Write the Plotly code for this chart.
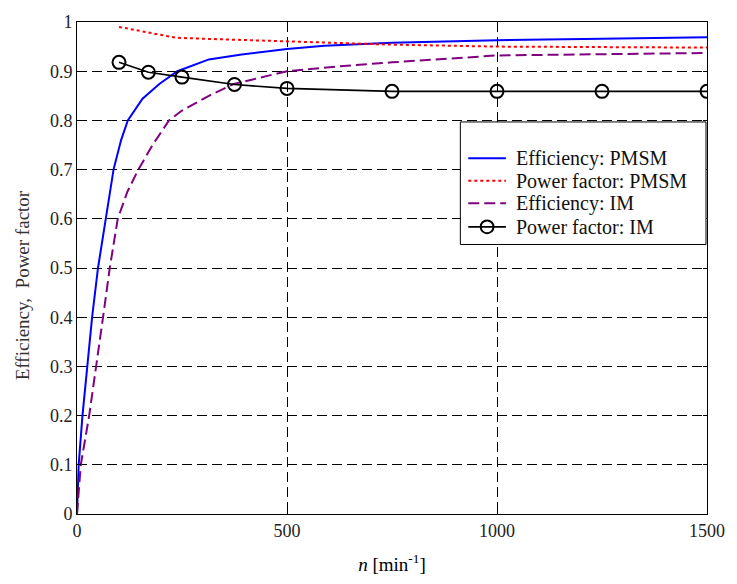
import plotly.graph_objects as go

# Speed (min^-1) and measured efficiency / power factor
pmsm_eff_n = [0, 4, 13, 24, 36, 50, 68, 87, 105, 121, 156, 196, 239, 314, 392, 500, 589, 667, 750, 900, 1000, 1250, 1500]
pmsm_eff = [0, 0.1, 0.2, 0.3, 0.4, 0.5, 0.6, 0.7, 0.76, 0.8, 0.844, 0.874, 0.9, 0.924, 0.934, 0.945, 0.9515, 0.955, 0.958, 0.961, 0.963, 0.966, 0.969]

pmsm_pf_n = [100, 150, 235, 300, 400, 500, 750, 1000, 1250, 1500]
pmsm_pf = [0.99, 0.982, 0.968, 0.966, 0.963, 0.960, 0.954, 0.950, 0.949, 0.948]

im_eff_n = [0, 9, 29, 46, 62, 78, 97, 120, 146, 180, 219, 250, 314, 373, 500, 626, 750, 1000, 1250, 1500]
im_eff = [0, 0.1, 0.2, 0.3, 0.4, 0.5, 0.6, 0.655, 0.7, 0.75, 0.8, 0.82, 0.85, 0.874, 0.9, 0.91, 0.918, 0.932, 0.935, 0.937]

im_pf_n = [100, 170, 250, 375, 500, 750, 1000, 1250, 1500]
im_pf = [0.918, 0.898, 0.888, 0.873, 0.865, 0.859, 0.859, 0.859, 0.859]

series_names = ["Efficiency: PMSM", "Power factor: PMSM", "Efficiency: IM", "Power factor: IM"]

x_ticks = [0, 500, 1000, 1500]
y_ticks = [0, 0.1, 0.2, 0.3, 0.4, 0.5, 0.6, 0.7, 0.8, 0.9, 1.0]
y_ticktext = ["0", "0.1", "0.2", "0.3", "0.4", "0.5", "0.6", "0.7", "0.8", "0.9", "1"]

FONT = "Liberation Serif, Times New Roman, serif"

styles = [
    dict(color="#0000ff", width=2, dash="solid"),
    dict(color="#ff0000", width=2, dash="dot"),
    dict(color="#800080", width=2, dash="11px,5px"),
    dict(color="#000000", width=1.6, dash="solid"),
]

fig = go.Figure()
fig.add_trace(go.Scatter(x=pmsm_eff_n, y=pmsm_eff, mode="lines", name=series_names[0], line=styles[0]))
fig.add_trace(go.Scatter(x=pmsm_pf_n, y=pmsm_pf, mode="lines", name=series_names[1], line=styles[1]))
fig.add_trace(go.Scatter(x=im_eff_n, y=im_eff, mode="lines", name=series_names[2], line=styles[2]))
fig.add_trace(go.Scatter(x=im_pf_n, y=im_pf, mode="lines+markers", name=series_names[3], line=styles[3],
                         marker=dict(symbol="circle-open", size=13, color="#000000",
                                     line=dict(width=2, color="#000000"))))

axis_common = dict(
    showline=True, linecolor="#000000", linewidth=1, mirror="ticks",
    ticks="inside", ticklen=4, tickcolor="#000000",
    showgrid=True, gridcolor="#000000", gridwidth=1, griddash="10px,5px",
    zeroline=False, tickfont=dict(family=FONT, size=18, color="#222222"),
)

fig.update_xaxes(range=[0, 1500], tickvals=x_ticks, ticktext=[str(v) for v in x_ticks],
                 title=dict(text="<i>n</i> [min<sup>-1</sup>]", font=dict(family=FONT, size=19, color="#000000"),
                            standoff=18),
                 **axis_common)
fig.update_yaxes(range=[0, 1], tickvals=y_ticks, ticktext=y_ticktext, **axis_common)

# Y-axis caption
fig.add_annotation(text="Efficiency,  Power factor", xref="paper", yref="paper",
                   x=-0.0865, y=0.464, xanchor="center", yanchor="middle", textangle=-90,
                   showarrow=False, font=dict(family=FONT, size=19, color="#333333"))

# Legend frame with line samples and labels
def px_x(p):
    return (p - 77) / 636.0

def px_y(p):
    return (517 - p) / 502.0

fig.add_shape(type="rect", xref="paper", yref="paper", x0=px_x(464), x1=px_x(712), y0=px_y(242), y1=px_y(117),
              fillcolor="#ffffff", line=dict(color="#000000", width=1), layer="above")

row_px = [154, 177, 200, 224]
for name, style, rp in zip(series_names, styles, row_px):
    fig.add_shape(type="line", xref="paper", yref="paper", x0=px_x(472), x1=px_x(510),
                  y0=px_y(rp), y1=px_y(rp), line=style, layer="above")
    fig.add_annotation(text=name, xref="paper", yref="paper", x=px_x(518), y=px_y(rp),
                       xanchor="left", yanchor="middle", showarrow=False,
                       font=dict(family=FONT, size=20, color="#111111"))
# marker sample for the IM power factor entry
fig.add_shape(type="circle", xref="paper", yref="paper",
              x0=px_x(491 - 6.5), x1=px_x(491 + 6.5), y0=px_y(row_px[3] + 6.5), y1=px_y(row_px[3] - 6.5),
              line=dict(color="#000000", width=2), fillcolor="rgba(0,0,0,0)", layer="above")

fig.update_layout(
    width=737, height=584,
    margin=dict(l=77, r=24, t=15, b=67),
    paper_bgcolor="#ffffff", plot_bgcolor="#ffffff",
    font=dict(family=FONT, size=17, color="#000000"),
    showlegend=False,
)

fig.write_html("out.html")
